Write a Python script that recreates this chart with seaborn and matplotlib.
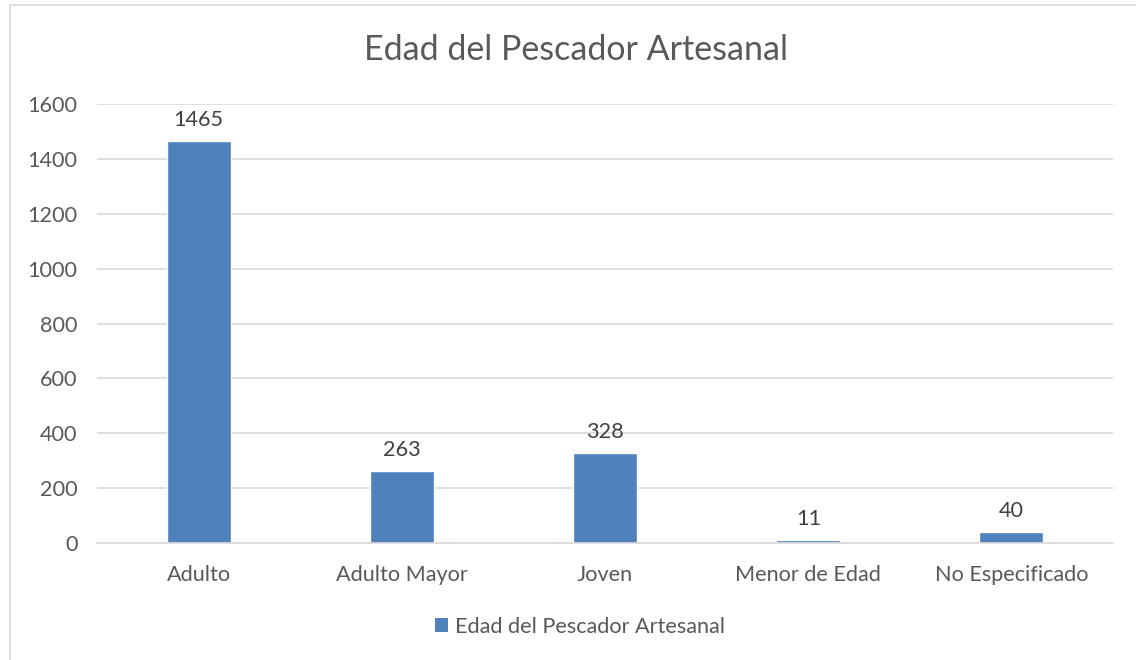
import matplotlib
matplotlib.use("Agg")
import matplotlib.pyplot as plt
import seaborn as sns
import pandas as pd
from matplotlib.patches import Rectangle, Patch

categories = ["Adulto", "Adulto Mayor", "Joven", "Menor de Edad", "No Especificado"]
values = [1465, 263, 328, 11, 40]
series_name = "Edad del Pescador Artesanal"
yticks = [0, 200, 400, 600, 800, 1000, 1200, 1400, 1600]

sns.set_theme(style="white")
plt.rcParams['font.family'] = ['Lato', 'DejaVu Sans']
txt = "#595959"
bar_color = "#4f81bd"
fs = 15.6

df = pd.DataFrame({"cat": categories, "val": values})

fig = plt.figure(figsize=(11.36, 6.6), dpi=100)
fig.patches.append(Rectangle((10/1136, -0.01), 1.2, 1 - 5/660 + 0.01, transform=fig.transFigure,
                             fill=False, edgecolor="#d9d9d9", linewidth=1.2))
ax = fig.add_axes([97/1136, 1 - 543/660, (1113-97)/1136, (543-104)/660])
sns.barplot(data=df, x="cat", y="val", color=bar_color, width=0.315, ax=ax, saturation=1)
ax.set_ylim(0, 1600)
ax.set_xlim(-0.5, len(categories) - 0.5)
ax.set_yticks(yticks)
ax.set_yticklabels([str(t) for t in yticks], fontsize=fs, color=txt)
ax.set_xticks(range(len(categories)))
ax.set_xticklabels(categories, fontsize=fs, color=txt)
ax.tick_params(axis='x', length=0, pad=16)
ax.tick_params(axis='y', length=0, pad=14)
ax.set_xlabel("")
ax.set_ylabel("")
for s in ["top", "right", "left"]:
    ax.spines[s].set_visible(False)
ax.spines["bottom"].set_color("#d9d9d9")
ax.spines["bottom"].set_linewidth(1.2)
ax.grid(axis='y', color="#d9d9d9", linewidth=1.2)
ax.set_axisbelow(True)

for i, v in enumerate(values):
    ax.annotate(str(v), (i, v), xytext=(0, 8), textcoords="offset points",
                ha="center", va="bottom", fontsize=fs, color="#404040")

fig.text(576/1136, 1 - 50/660, series_name, ha="center", va="center", fontsize=24.5, color=txt)

handle = Patch(facecolor=bar_color, edgecolor="none")
fig.legend([handle], [series_name], loc="center", bbox_to_anchor=(580/1136, 1 - 627/660),
           frameon=False, fontsize=fs, labelcolor=txt, handlelength=0.6, handleheight=0.6,
           handletextpad=0.3)

fig.savefig("out.png", dpi=100)
